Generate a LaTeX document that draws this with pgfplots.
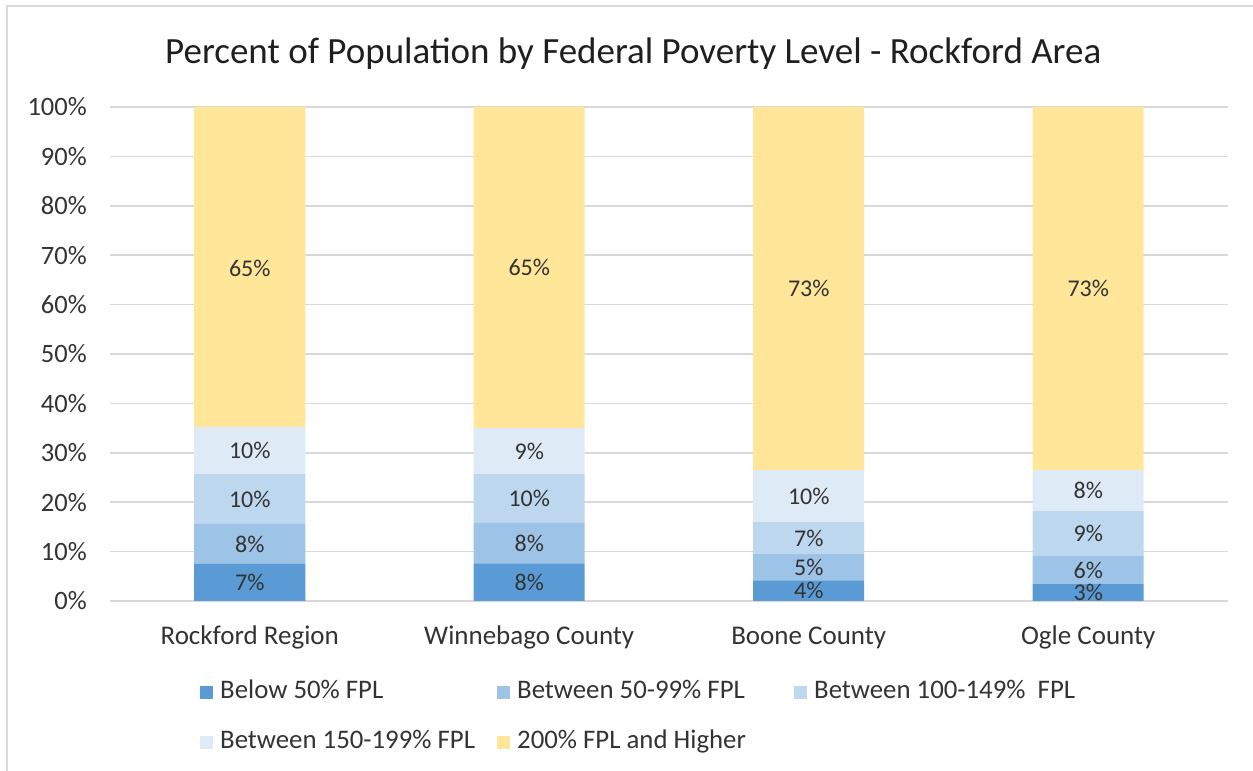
\documentclass[border=0pt]{standalone}
\usepackage{fontspec}
\setmainfont{Carlito}
\usepackage{pgfplots}
\usepackage{pgfplotstable}
\pgfplotsset{compat=1.18}
\definecolor{c1}{HTML}{5B9BD5}
\definecolor{c2}{HTML}{9DC3E6}
\definecolor{c3}{HTML}{BDD7EE}
\definecolor{c4}{HTML}{DEEBF7}
\definecolor{c5}{HTML}{FFE699}
\definecolor{gridc}{HTML}{D9D9D9}
\definecolor{txt}{HTML}{333333}

\pgfplotstableread{
x b50 b99 b149 b199 b200
0 7.5 8.1 10.1 9.5 64.8
1 7.6 8.2 9.9 9.3 65.0
2 4.2 5.3 6.5 10.5 73.5
3 3.4 5.7 9.1 8.3 73.5
}\bars

\pgfplotstableread{
x y lab
0 3.75 7\%
0 11.55 8\%
0 20.65 10\%
0 30.45 10\%
0 67.4 65\%
1 3.8 8\%
1 11.7 8\%
1 20.75 10\%
1 30.35 9\%
1 67.5 65\%
2 2.1 4\%
2 6.85 5\%
2 12.75 7\%
2 21.25 10\%
2 63.25 73\%
3 1.7 3\%
3 6.25 6\%
3 13.65 9\%
3 22.35 8\%
3 63.25 73\%
}\labels

\pgfplotsset{
  common/.style={
    at={(110pt,170pt)}, anchor=south west,
    scale only axis, width=1118pt, height=494pt,
    xmin=-0.5, xmax=3.5, ymin=0, ymax=100,
  }
}

\begin{document}
\begin{tikzpicture}[x=1pt,y=1pt]
\path[use as bounding box] (0,0) rectangle (1253,771);
\draw[gridc, line width=2pt] (7,0) -- (7,765) -- (1253,765);
\begin{axis}[common,
  ybar stacked, bar width=111pt,
  axis line style={draw=none},
  tick style={draw=none},
  ymajorgrids, grid style={gridc, line width=1.5pt},
  xtick={0,1,2,3},
  xticklabels={Rockford Region, Winnebago County, Boone County, Ogle County},
  ytick={0,10,...,100},
  yticklabels={0\%,10\%,20\%,30\%,40\%,50\%,60\%,70\%,80\%,90\%,100\%},
  ticklabel style={font=\fontsize{26.5}{30}\selectfont, text=txt},
  yticklabel style={anchor=east, inner sep=0pt, xshift=-23pt},
  xticklabel style={font=\fontsize{27}{30}\selectfont, anchor=base, inner sep=0pt, yshift=-43pt},
  title={Percent of Population by Federal Poverty Level - Rockford Area},
  title style={font=\fontsize{37}{42}\selectfont, text=black!88, at={(0.468,1.095)}, anchor=center},
  legend columns=3,
  legend style={draw=none, fill=none, inner sep=0pt, at={(0.0805,-0.159)}, anchor=north west,
    font=\fontsize{26.8}{30}\selectfont, text=txt,
    nodes={inner sep=0pt, text height=19pt, text depth=6pt, anchor=west},
    row sep=25pt},
  legend image code/.code={\fill[#1,draw=none] (0pt,-6.5pt) rectangle (13pt,6.5pt); \path (20pt,0pt);},
]
\addplot[fill=c1, draw=none] table[x=x, y=b50] {\bars};
\addplot[fill=c2, draw=none] table[x=x, y=b99] {\bars};
\addplot[fill=c3, draw=none] table[x=x, y=b149] {\bars};
\addplot[fill=c4, draw=none] table[x=x, y=b199] {\bars};
\addplot[fill=c5, draw=none] table[x=x, y=b200] {\bars};
\legend{\makebox[277pt][l]{Below 50\% FPL},\makebox[277pt][l]{Between 50-99\% FPL},\makebox[277pt][l]{Between 100-149\%\ \ FPL},\makebox[277pt][l]{Between 150-199\% FPL},\makebox[277pt][l]{200\% FPL and Higher}}
\end{axis}
\begin{axis}[common, hide axis]
\addplot[only marks, mark=none, draw=none,
  point meta=explicit symbolic,
  nodes near coords,
  every node near coord/.style={anchor=center, font=\fontsize{24}{28}\selectfont, text=txt, inner sep=0pt}]
  table[x=x, y=y, meta=lab] {\labels};
\end{axis}
\end{tikzpicture}
\end{document}
